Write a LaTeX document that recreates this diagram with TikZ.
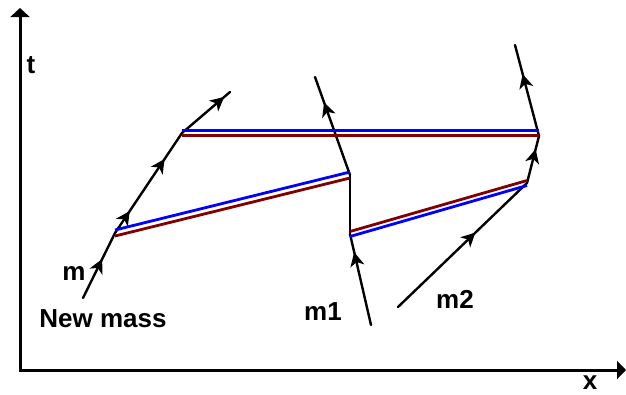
\documentclass[tikz,border=0pt]{standalone}
\usepackage{fontspec}
\setmainfont{Liberation Sans}
\usetikzlibrary{arrows.meta,decorations.markings}
\definecolor{sigred}{RGB}{128,0,0}
\definecolor{sigblue}{RGB}{0,0,255}
\begin{document}
\begin{tikzpicture}[x=1pt,y=-1pt,
 axis/.style={line width=3pt,{Triangle[length=9pt,width=19pt]}-{Triangle[length=9pt,width=18pt]}},
 wl/.style={line width=2.4pt,line cap=round},
 ar/.style={postaction={decorate,decoration={markings,mark=at position #1 with {\arrow{Stealth[length=14pt,width=14pt,inset=4pt]}}}}},
 sb/.style={line width=2.8pt,sigblue},
 sr/.style={line width=2.8pt,sigred},
 lbl/.style={anchor=base,inner sep=0pt,font=\fontsize{26}{30}\selectfont\bfseries}]
\useasboundingbox (0,0) rectangle (626,394);
% axes
\coordinate (tend) at (20,8);
\coordinate (o) at (20,370);
\coordinate (xend) at (626,370);
\draw[axis] (tend) -- (o) -- (xend);
\node[lbl] (tlab) at (31,73) {t};
\node[lbl] (xlab) at (590,389) {x};
% new mass
\coordinate (n0) at (83,298);
\coordinate (n1) at (115,233);
\coordinate (n2) at (182,133);
\coordinate (n3) at (230,92);
\draw[wl,ar=0.6] (n0) -- (n1);
\draw[wl,ar=0.22,ar=0.74] (n1) -- (n2);
\draw[wl,ar=0.88] (n2) -- (n3);
\node[lbl] (mlab) at (74,280) {m};
\node[lbl] (nlab) at (103,327) {New mass};
% m1
\coordinate (a0) at (371,325);
\coordinate (a1) at (350,234);
\coordinate (a2) at (350,175);
\coordinate (a3) at (315,77);
\draw[wl,ar=0.8] (a0) -- (a1);
\draw[wl] (a1) -- (a2);
\draw[wl,ar=0.74] (a2) -- (a3);
\node[lbl] (m1lab) at (323,320) {m1};
% m2
\coordinate (b0) at (398,307);
\coordinate (b1) at (527,183);
\coordinate (b2) at (539,136);
\coordinate (b3) at (515,45);
\draw[wl,ar=0.6] (b0) -- (b1);
\draw[wl,ar=0.72] (b1) -- (b2);
\draw[wl,ar=0.68] (b2) -- (b3);
\node[lbl] (m2lab) at (455,308) {m2};
% signals
\draw[sb] ([yshift=3pt]n1) -- ([yshift=3pt]a2);
\draw[sr] ([yshift=-3pt]n1) -- ([yshift=-3pt]a2);
\draw[sb] ([yshift=2.5pt]n2) -- ([yshift=2.5pt]n2 -| b2);
\draw[sr] ([yshift=-2.5pt]n2) -- ([yshift=-2.5pt]n2 -| b2);
\draw[sr] ([yshift=2.5pt]a1) -- ([yshift=2.5pt]b1);
\draw[sb] ([yshift=-2.5pt]a1) -- ([yshift=-2.5pt]b1);
\end{tikzpicture}
\end{document}
